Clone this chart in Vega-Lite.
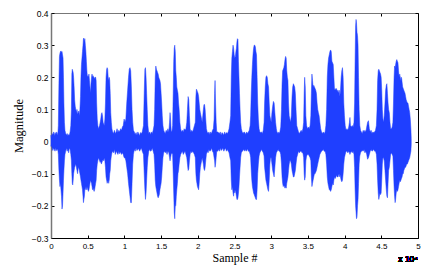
{
"$schema":"https://vega.github.io/schema/vega-lite/v6.json",
"width":367,"height":225,
"autosize":{"type":"none"},
"padding":{"left":51,"top":13,"right":18,"bottom":35},
"background":"white",
"config":{"view":{"stroke":null},"font":"Liberation Sans"},
"data":{"values":[
{"s":0,"hi":0.02,"lo":-0.015},{"s":50,"hi":0.01,"lo":-0.01},{"s":150,"hi":0.025,"lo":-0.02},{"s":250,"hi":0.02,"lo":-0.028},{"s":350,"hi":0.03,"lo":-0.02},{"s":450,"hi":0.018,"lo":-0.025},{"s":550,"hi":0.028,"lo":-0.03},{"s":650,"hi":0.022,"lo":-0.02},{"s":750,"hi":0.03,"lo":-0.028},{"s":850,"hi":0.02,"lo":-0.022},{"s":950,"hi":0.03,"lo":-0.03},
{"s":1000,"hi":0.05,"lo":-0.04},{"s":1080,"hi":0.18,"lo":-0.09},{"s":1150,"hi":0.265,"lo":-0.12},{"s":1220,"hi":0.275,"lo":-0.14},{"s":1290,"hi":0.28,"lo":-0.13},{"s":1360,"hi":0.282,"lo":-0.15},{"s":1430,"hi":0.278,"lo":-0.17},{"s":1500,"hi":0.28,"lo":-0.21},{"s":1570,"hi":0.27,"lo":-0.2},{"s":1640,"hi":0.26,"lo":-0.16},{"s":1700,"hi":0.2,"lo":-0.12},{"s":1760,"hi":0.12,"lo":-0.09},{"s":1830,"hi":0.06,"lo":-0.06},{"s":1900,"hi":0.035,"lo":-0.04},{"s":2000,"hi":0.025,"lo":-0.03},
{"s":2100,"hi":0.02,"lo":-0.02},{"s":2200,"hi":0.025,"lo":-0.03},{"s":2300,"hi":0.018,"lo":-0.022},{"s":2400,"hi":0.022,"lo":-0.035},{"s":2500,"hi":0.02,"lo":-0.02},{"s":2600,"hi":0.03,"lo":-0.025},{"s":2700,"hi":0.05,"lo":-0.04},
{"s":2780,"hi":0.1,"lo":-0.06},{"s":2840,"hi":0.21,"lo":-0.1},{"s":2900,"hi":0.225,"lo":-0.13},{"s":2960,"hi":0.22,"lo":-0.135},{"s":3020,"hi":0.215,"lo":-0.12},{"s":3080,"hi":0.2,"lo":-0.1},{"s":3150,"hi":0.17,"lo":-0.09},{"s":3220,"hi":0.13,"lo":-0.08},{"s":3300,"hi":0.11,"lo":-0.075},{"s":3380,"hi":0.1,"lo":-0.07},{"s":3460,"hi":0.09,"lo":-0.08},{"s":3540,"hi":0.1,"lo":-0.09},{"s":3620,"hi":0.085,"lo":-0.1},{"s":3700,"hi":0.09,"lo":-0.085},{"s":3780,"hi":0.095,"lo":-0.08},{"s":3860,"hi":0.08,"lo":-0.09},{"s":3940,"hi":0.1,"lo":-0.1},{"s":4020,"hi":0.14,"lo":-0.11},
{"s":4080,"hi":0.2,"lo":-0.12},{"s":4150,"hi":0.24,"lo":-0.13},{"s":4220,"hi":0.26,"lo":-0.14},{"s":4290,"hi":0.28,"lo":-0.15},{"s":4360,"hi":0.3,"lo":-0.17},{"s":4420,"hi":0.32,"lo":-0.19},{"s":4480,"hi":0.322,"lo":-0.18},{"s":4550,"hi":0.31,"lo":-0.17},{"s":4610,"hi":0.32,"lo":-0.15},{"s":4680,"hi":0.3,"lo":-0.14},{"s":4750,"hi":0.28,"lo":-0.15},{"s":4820,"hi":0.25,"lo":-0.14},{"s":4890,"hi":0.22,"lo":-0.15},{"s":4960,"hi":0.2,"lo":-0.14},{"s":5030,"hi":0.205,"lo":-0.15},{"s":5100,"hi":0.2,"lo":-0.155},{"s":5170,"hi":0.21,"lo":-0.15},{"s":5240,"hi":0.19,"lo":-0.14},{"s":5310,"hi":0.17,"lo":-0.13},{"s":5380,"hi":0.15,"lo":-0.12},{"s":5450,"hi":0.18,"lo":-0.125},{"s":5520,"hi":0.2,"lo":-0.13},{"s":5590,"hi":0.21,"lo":-0.14},{"s":5660,"hi":0.2,"lo":-0.15},{"s":5730,"hi":0.205,"lo":-0.145},{"s":5800,"hi":0.2,"lo":-0.15},{"s":5870,"hi":0.2,"lo":-0.155},{"s":5940,"hi":0.195,"lo":-0.15},{"s":6010,"hi":0.2,"lo":-0.14},{"s":6080,"hi":0.2,"lo":-0.13},{"s":6150,"hi":0.19,"lo":-0.12},{"s":6220,"hi":0.12,"lo":-0.09},{"s":6300,"hi":0.07,"lo":-0.07},{"s":6380,"hi":0.05,"lo":-0.06},
{"s":6460,"hi":0.04,"lo":-0.05},{"s":6540,"hi":0.045,"lo":-0.055},{"s":6620,"hi":0.05,"lo":-0.06},{"s":6700,"hi":0.06,"lo":-0.065},{"s":6780,"hi":0.07,"lo":-0.06},{"s":6860,"hi":0.085,"lo":-0.07},{"s":6940,"hi":0.09,"lo":-0.065},{"s":7020,"hi":0.08,"lo":-0.06},{"s":7100,"hi":0.06,"lo":-0.055},{"s":7180,"hi":0.055,"lo":-0.06},{"s":7260,"hi":0.05,"lo":-0.05},{"s":7340,"hi":0.07,"lo":-0.06},
{"s":7420,"hi":0.12,"lo":-0.08},{"s":7500,"hi":0.2,"lo":-0.11},{"s":7580,"hi":0.225,"lo":-0.12},{"s":7650,"hi":0.23,"lo":-0.13},{"s":7720,"hi":0.225,"lo":-0.125},{"s":7790,"hi":0.2,"lo":-0.12},{"s":7860,"hi":0.19,"lo":-0.13},{"s":7930,"hi":0.2,"lo":-0.12},{"s":8000,"hi":0.19,"lo":-0.1},{"s":8070,"hi":0.15,"lo":-0.09},{"s":8140,"hi":0.09,"lo":-0.06},{"s":8220,"hi":0.06,"lo":-0.045},{"s":8300,"hi":0.04,"lo":-0.035},
{"s":8400,"hi":0.03,"lo":-0.03},{"s":8520,"hi":0.025,"lo":-0.035},{"s":8640,"hi":0.035,"lo":-0.025},{"s":8760,"hi":0.025,"lo":-0.04},{"s":8880,"hi":0.03,"lo":-0.03},{"s":9000,"hi":0.04,"lo":-0.035},{"s":9120,"hi":0.028,"lo":-0.04},{"s":9240,"hi":0.035,"lo":-0.03},{"s":9360,"hi":0.03,"lo":-0.038},{"s":9480,"hi":0.04,"lo":-0.032},{"s":9600,"hi":0.035,"lo":-0.04},{"s":9720,"hi":0.045,"lo":-0.035},{"s":9840,"hi":0.05,"lo":-0.04},{"s":9960,"hi":0.07,"lo":-0.05},
{"s":10080,"hi":0.06,"lo":-0.05},{"s":10200,"hi":0.07,"lo":-0.06},{"s":10320,"hi":0.12,"lo":-0.08},{"s":10440,"hi":0.16,"lo":-0.1},{"s":10560,"hi":0.2,"lo":-0.13},{"s":10660,"hi":0.225,"lo":-0.15},{"s":10760,"hi":0.23,"lo":-0.17},{"s":10860,"hi":0.22,"lo":-0.19},{"s":10950,"hi":0.17,"lo":-0.19},{"s":11040,"hi":0.1,"lo":-0.13},{"s":11130,"hi":0.06,"lo":-0.07},{"s":11230,"hi":0.035,"lo":-0.04},
{"s":11350,"hi":0.03,"lo":-0.025},{"s":11470,"hi":0.022,"lo":-0.03},{"s":11590,"hi":0.028,"lo":-0.02},{"s":11710,"hi":0.02,"lo":-0.028},{"s":11830,"hi":0.03,"lo":-0.025},{"s":11950,"hi":0.025,"lo":-0.022},{"s":12070,"hi":0.018,"lo":-0.03},{"s":12190,"hi":0.028,"lo":-0.025},{"s":12310,"hi":0.025,"lo":-0.02},{"s":12430,"hi":0.03,"lo":-0.03},
{"s":12600,"hi":0.05,"lo":-0.04},{"s":12700,"hi":0.15,"lo":-0.1},{"s":12790,"hi":0.225,"lo":-0.15},{"s":12870,"hi":0.23,"lo":-0.18},{"s":12950,"hi":0.2,"lo":-0.16},{"s":13030,"hi":0.15,"lo":-0.12},{"s":13110,"hi":0.1,"lo":-0.08},{"s":13200,"hi":0.05,"lo":-0.05},
{"s":13320,"hi":0.025,"lo":-0.03},{"s":13440,"hi":0.03,"lo":-0.025},{"s":13560,"hi":0.022,"lo":-0.03},{"s":13680,"hi":0.03,"lo":-0.028},{"s":13800,"hi":0.025,"lo":-0.02},{"s":13920,"hi":0.035,"lo":-0.03},{"s":14040,"hi":0.05,"lo":-0.04},
{"s":14120,"hi":0.1,"lo":-0.07},{"s":14200,"hi":0.2,"lo":-0.12},{"s":14280,"hi":0.235,"lo":-0.14},{"s":14360,"hi":0.225,"lo":-0.15},{"s":14440,"hi":0.22,"lo":-0.16},{"s":14520,"hi":0.215,"lo":-0.17},{"s":14600,"hi":0.21,"lo":-0.175},{"s":14680,"hi":0.2,"lo":-0.17},{"s":14760,"hi":0.195,"lo":-0.165},{"s":14840,"hi":0.19,"lo":-0.15},{"s":14920,"hi":0.18,"lo":-0.14},{"s":15000,"hi":0.15,"lo":-0.13},{"s":15080,"hi":0.12,"lo":-0.11},{"s":15160,"hi":0.08,"lo":-0.08},{"s":15250,"hi":0.05,"lo":-0.05},{"s":15350,"hi":0.035,"lo":-0.035},
{"s":15450,"hi":0.03,"lo":-0.03},{"s":15570,"hi":0.025,"lo":-0.035},{"s":15690,"hi":0.035,"lo":-0.03},{"s":15810,"hi":0.03,"lo":-0.04},{"s":15930,"hi":0.04,"lo":-0.03},{"s":16050,"hi":0.03,"lo":-0.035},{"s":16150,"hi":0.06,"lo":-0.05},{"s":16220,"hi":0.09,"lo":-0.06},{"s":16290,"hi":0.07,"lo":-0.05},{"s":16370,"hi":0.035,"lo":-0.04},{"s":16470,"hi":0.03,"lo":-0.035},{"s":16570,"hi":0.05,"lo":-0.04},
{"s":16650,"hi":0.15,"lo":-0.1},{"s":16720,"hi":0.25,"lo":-0.16},{"s":16790,"hi":0.29,"lo":-0.22},{"s":16860,"hi":0.3,"lo":-0.24},{"s":16930,"hi":0.28,"lo":-0.2},{"s":17000,"hi":0.22,"lo":-0.2},{"s":17070,"hi":0.2,"lo":-0.17},{"s":17140,"hi":0.17,"lo":-0.15},{"s":17220,"hi":0.16,"lo":-0.13},{"s":17300,"hi":0.15,"lo":-0.1},{"s":17380,"hi":0.12,"lo":-0.09},{"s":17460,"hi":0.1,"lo":-0.07},{"s":17560,"hi":0.06,"lo":-0.05},{"s":17660,"hi":0.04,"lo":-0.04},
{"s":17780,"hi":0.03,"lo":-0.035},{"s":17900,"hi":0.035,"lo":-0.03},{"s":18020,"hi":0.03,"lo":-0.04},{"s":18140,"hi":0.04,"lo":-0.035},{"s":18260,"hi":0.035,"lo":-0.03},{"s":18380,"hi":0.04,"lo":-0.04},{"s":18500,"hi":0.06,"lo":-0.05},
{"s":18590,"hi":0.1,"lo":-0.07},{"s":18680,"hi":0.14,"lo":-0.09},{"s":18770,"hi":0.13,"lo":-0.085},{"s":18860,"hi":0.08,"lo":-0.06},{"s":18950,"hi":0.04,"lo":-0.04},
{"s":19060,"hi":0.03,"lo":-0.03},{"s":19180,"hi":0.035,"lo":-0.035},{"s":19300,"hi":0.03,"lo":-0.03},{"s":19420,"hi":0.04,"lo":-0.035},{"s":19540,"hi":0.05,"lo":-0.04},
{"s":19660,"hi":0.06,"lo":-0.05},{"s":19740,"hi":0.14,"lo":-0.1},{"s":19810,"hi":0.163,"lo":-0.12},{"s":19880,"hi":0.16,"lo":-0.13},{"s":19950,"hi":0.155,"lo":-0.14},{"s":20030,"hi":0.15,"lo":-0.145},{"s":20110,"hi":0.14,"lo":-0.15},{"s":20190,"hi":0.12,"lo":-0.13},{"s":20270,"hi":0.1,"lo":-0.1},{"s":20350,"hi":0.09,"lo":-0.08},{"s":20430,"hi":0.08,"lo":-0.07},{"s":20520,"hi":0.07,"lo":-0.06},{"s":20600,"hi":0.06,"lo":-0.05},{"s":20680,"hi":0.08,"lo":-0.06},{"s":20760,"hi":0.1,"lo":-0.07},{"s":20840,"hi":0.115,"lo":-0.085},{"s":20920,"hi":0.115,"lo":-0.09},{"s":21000,"hi":0.1,"lo":-0.08},{"s":21080,"hi":0.07,"lo":-0.06},{"s":21170,"hi":0.04,"lo":-0.04},
{"s":21280,"hi":0.03,"lo":-0.03},{"s":21400,"hi":0.025,"lo":-0.035},{"s":21520,"hi":0.03,"lo":-0.025},{"s":21640,"hi":0.022,"lo":-0.03},{"s":21760,"hi":0.03,"lo":-0.028},{"s":21880,"hi":0.025,"lo":-0.02},{"s":22000,"hi":0.035,"lo":-0.03},{"s":22120,"hi":0.04,"lo":-0.035},{"s":22220,"hi":0.07,"lo":-0.05},
{"s":22290,"hi":0.15,"lo":-0.06},{"s":22350,"hi":0.19,"lo":-0.08},{"s":22420,"hi":0.12,"lo":-0.07},{"s":22500,"hi":0.06,"lo":-0.05},{"s":22580,"hi":0.03,"lo":-0.03},
{"s":22700,"hi":0.03,"lo":-0.03},{"s":22820,"hi":0.028,"lo":-0.025},{"s":22940,"hi":0.025,"lo":-0.03},{"s":23060,"hi":0.03,"lo":-0.02},{"s":23180,"hi":0.02,"lo":-0.028},{"s":23300,"hi":0.028,"lo":-0.025},{"s":23420,"hi":0.025,"lo":-0.02},{"s":23540,"hi":0.02,"lo":-0.03},{"s":23660,"hi":0.03,"lo":-0.025},{"s":23780,"hi":0.022,"lo":-0.02},{"s":23900,"hi":0.028,"lo":-0.03},{"s":24020,"hi":0.025,"lo":-0.025},{"s":24140,"hi":0.03,"lo":-0.03},{"s":24260,"hi":0.04,"lo":-0.035},{"s":24380,"hi":0.06,"lo":-0.05},
{"s":24480,"hi":0.08,"lo":-0.06},{"s":24560,"hi":0.2,"lo":-0.12},{"s":24640,"hi":0.26,"lo":-0.15},{"s":24720,"hi":0.28,"lo":-0.14},{"s":24800,"hi":0.3,"lo":-0.16},{"s":24880,"hi":0.29,"lo":-0.17},{"s":24960,"hi":0.27,"lo":-0.15},{"s":25040,"hi":0.26,"lo":-0.16},{"s":25120,"hi":0.265,"lo":-0.15},{"s":25190,"hi":0.28,"lo":-0.16},{"s":25260,"hi":0.29,"lo":-0.17},{"s":25330,"hi":0.31,"lo":-0.18},{"s":25400,"hi":0.32,"lo":-0.18},{"s":25470,"hi":0.318,"lo":-0.175},{"s":25540,"hi":0.25,"lo":-0.16},{"s":25610,"hi":0.2,"lo":-0.14},{"s":25680,"hi":0.15,"lo":-0.11},{"s":25760,"hi":0.1,"lo":-0.08},{"s":25840,"hi":0.06,"lo":-0.05},{"s":25930,"hi":0.04,"lo":-0.035},
{"s":26050,"hi":0.03,"lo":-0.03},{"s":26170,"hi":0.025,"lo":-0.028},{"s":26290,"hi":0.03,"lo":-0.025},{"s":26410,"hi":0.028,"lo":-0.03},{"s":26530,"hi":0.022,"lo":-0.025},{"s":26650,"hi":0.03,"lo":-0.03},{"s":26770,"hi":0.025,"lo":-0.022},{"s":26890,"hi":0.03,"lo":-0.03},{"s":27010,"hi":0.035,"lo":-0.03},{"s":27130,"hi":0.05,"lo":-0.04},
{"s":27200,"hi":0.08,"lo":-0.05},{"s":27280,"hi":0.15,"lo":-0.09},{"s":27360,"hi":0.2,"lo":-0.12},{"s":27440,"hi":0.24,"lo":-0.14},{"s":27520,"hi":0.27,"lo":-0.15},{"s":27600,"hi":0.29,"lo":-0.16},{"s":27680,"hi":0.3,"lo":-0.165},{"s":27760,"hi":0.3,"lo":-0.17},{"s":27840,"hi":0.295,"lo":-0.175},{"s":27920,"hi":0.28,"lo":-0.18},{"s":28000,"hi":0.27,"lo":-0.18},{"s":28080,"hi":0.2,"lo":-0.15},{"s":28160,"hi":0.12,"lo":-0.1},{"s":28250,"hi":0.07,"lo":-0.07},{"s":28350,"hi":0.04,"lo":-0.045},{"s":28450,"hi":0.03,"lo":-0.035},
{"s":28560,"hi":0.028,"lo":-0.03},{"s":28680,"hi":0.03,"lo":-0.025},{"s":28800,"hi":0.025,"lo":-0.03},{"s":28920,"hi":0.035,"lo":-0.035},{"s":29030,"hi":0.06,"lo":-0.045},
{"s":29100,"hi":0.12,"lo":-0.08},{"s":29190,"hi":0.17,"lo":-0.1},{"s":29280,"hi":0.2,"lo":-0.12},{"s":29370,"hi":0.205,"lo":-0.13},{"s":29460,"hi":0.2,"lo":-0.14},{"s":29550,"hi":0.18,"lo":-0.15},{"s":29640,"hi":0.17,"lo":-0.155},{"s":29730,"hi":0.12,"lo":-0.12},{"s":29820,"hi":0.08,"lo":-0.07},{"s":29910,"hi":0.07,"lo":-0.05},
{"s":30000,"hi":0.06,"lo":-0.05},{"s":30100,"hi":0.09,"lo":-0.07},{"s":30200,"hi":0.11,"lo":-0.09},{"s":30300,"hi":0.125,"lo":-0.1},{"s":30400,"hi":0.12,"lo":-0.11},{"s":30500,"hi":0.09,"lo":-0.08},{"s":30600,"hi":0.06,"lo":-0.05},{"s":30700,"hi":0.04,"lo":-0.035},
{"s":30820,"hi":0.025,"lo":-0.03},{"s":30940,"hi":0.03,"lo":-0.025},{"s":31060,"hi":0.025,"lo":-0.03},{"s":31180,"hi":0.03,"lo":-0.03},{"s":31300,"hi":0.045,"lo":-0.04},
{"s":31400,"hi":0.1,"lo":-0.07},{"s":31480,"hi":0.18,"lo":-0.11},{"s":31560,"hi":0.22,"lo":-0.13},{"s":31640,"hi":0.225,"lo":-0.14},{"s":31720,"hi":0.23,"lo":-0.135},{"s":31800,"hi":0.24,"lo":-0.14},{"s":31880,"hi":0.255,"lo":-0.145},{"s":31960,"hi":0.265,"lo":-0.14},{"s":32040,"hi":0.26,"lo":-0.145},{"s":32120,"hi":0.22,"lo":-0.13},{"s":32200,"hi":0.2,"lo":-0.12},{"s":32280,"hi":0.19,"lo":-0.11},{"s":32360,"hi":0.12,"lo":-0.09},{"s":32450,"hi":0.08,"lo":-0.07},{"s":32540,"hi":0.07,"lo":-0.06},
{"s":32640,"hi":0.06,"lo":-0.06},{"s":32740,"hi":0.08,"lo":-0.07},{"s":32840,"hi":0.14,"lo":-0.09},{"s":32930,"hi":0.17,"lo":-0.1},{"s":33020,"hi":0.18,"lo":-0.11},{"s":33110,"hi":0.175,"lo":-0.11},{"s":33200,"hi":0.17,"lo":-0.1},{"s":33290,"hi":0.15,"lo":-0.09},{"s":33380,"hi":0.1,"lo":-0.07},{"s":33480,"hi":0.05,"lo":-0.05},
{"s":33600,"hi":0.04,"lo":-0.04},{"s":33720,"hi":0.03,"lo":-0.03},{"s":33840,"hi":0.025,"lo":-0.035},{"s":33960,"hi":0.03,"lo":-0.03},{"s":34080,"hi":0.035,"lo":-0.03},{"s":34200,"hi":0.03,"lo":-0.035},{"s":34320,"hi":0.04,"lo":-0.035},{"s":34420,"hi":0.06,"lo":-0.05},
{"s":34490,"hi":0.15,"lo":-0.1},{"s":34560,"hi":0.2,"lo":-0.12},{"s":34640,"hi":0.17,"lo":-0.11},{"s":34720,"hi":0.08,"lo":-0.06},{"s":34820,"hi":0.05,"lo":-0.045},{"s":34940,"hi":0.04,"lo":-0.04},{"s":35060,"hi":0.045,"lo":-0.04},{"s":35180,"hi":0.04,"lo":-0.045},{"s":35300,"hi":0.05,"lo":-0.05},{"s":35400,"hi":0.08,"lo":-0.06},
{"s":35470,"hi":0.15,"lo":-0.11},{"s":35550,"hi":0.21,"lo":-0.14},{"s":35630,"hi":0.19,"lo":-0.13},{"s":35710,"hi":0.17,"lo":-0.12},{"s":35800,"hi":0.175,"lo":-0.11},{"s":35890,"hi":0.17,"lo":-0.1},{"s":35980,"hi":0.165,"lo":-0.1},{"s":36070,"hi":0.16,"lo":-0.095},{"s":36160,"hi":0.15,"lo":-0.09},{"s":36250,"hi":0.12,"lo":-0.08},{"s":36340,"hi":0.1,"lo":-0.07},{"s":36430,"hi":0.09,"lo":-0.06},{"s":36530,"hi":0.08,"lo":-0.05},{"s":36630,"hi":0.06,"lo":-0.04},{"s":36740,"hi":0.04,"lo":-0.035},
{"s":36860,"hi":0.03,"lo":-0.03},{"s":36980,"hi":0.025,"lo":-0.028},{"s":37100,"hi":0.03,"lo":-0.025},{"s":37220,"hi":0.025,"lo":-0.03},{"s":37340,"hi":0.03,"lo":-0.03},{"s":37450,"hi":0.05,"lo":-0.04},
{"s":37550,"hi":0.1,"lo":-0.07},{"s":37640,"hi":0.2,"lo":-0.11},{"s":37730,"hi":0.24,"lo":-0.13},{"s":37820,"hi":0.26,"lo":-0.14},{"s":37910,"hi":0.27,"lo":-0.15},{"s":38000,"hi":0.28,"lo":-0.15},{"s":38090,"hi":0.285,"lo":-0.155},{"s":38180,"hi":0.28,"lo":-0.15},{"s":38270,"hi":0.25,"lo":-0.14},{"s":38360,"hi":0.245,"lo":-0.13},{"s":38450,"hi":0.24,"lo":-0.135},{"s":38540,"hi":0.2,"lo":-0.12},{"s":38630,"hi":0.16,"lo":-0.11},{"s":38720,"hi":0.165,"lo":-0.115},{"s":38810,"hi":0.16,"lo":-0.11},{"s":38900,"hi":0.165,"lo":-0.105},{"s":38990,"hi":0.155,"lo":-0.11},{"s":39080,"hi":0.16,"lo":-0.11},{"s":39170,"hi":0.15,"lo":-0.1},{"s":39260,"hi":0.16,"lo":-0.11},{"s":39350,"hi":0.14,"lo":-0.1},{"s":39440,"hi":0.16,"lo":-0.11},{"s":39530,"hi":0.2,"lo":-0.12},{"s":39620,"hi":0.22,"lo":-0.125},{"s":39710,"hi":0.23,"lo":-0.12},{"s":39800,"hi":0.2,"lo":-0.1},{"s":39890,"hi":0.12,"lo":-0.07},{"s":39980,"hi":0.08,"lo":-0.05},{"s":40080,"hi":0.05,"lo":-0.04},
{"s":40200,"hi":0.035,"lo":-0.03},{"s":40320,"hi":0.04,"lo":-0.03},{"s":40440,"hi":0.035,"lo":-0.035},{"s":40560,"hi":0.045,"lo":-0.03},{"s":40660,"hi":0.06,"lo":-0.035},{"s":40730,"hi":0.075,"lo":-0.04},{"s":40800,"hi":0.05,"lo":-0.035},{"s":40920,"hi":0.045,"lo":-0.03},{"s":41040,"hi":0.05,"lo":-0.035},{"s":41160,"hi":0.045,"lo":-0.03},{"s":41280,"hi":0.06,"lo":-0.04},
{"s":41360,"hi":0.12,"lo":-0.08},{"s":41430,"hi":0.25,"lo":-0.15},{"s":41500,"hi":0.36,"lo":-0.2},{"s":41560,"hi":0.38,"lo":-0.22},{"s":41620,"hi":0.37,"lo":-0.24},{"s":41690,"hi":0.34,"lo":-0.235},{"s":41760,"hi":0.33,"lo":-0.2},{"s":41830,"hi":0.3,"lo":-0.18},{"s":41900,"hi":0.2,"lo":-0.13},{"s":41980,"hi":0.1,"lo":-0.07},{"s":42070,"hi":0.05,"lo":-0.045},{"s":42170,"hi":0.035,"lo":-0.035},
{"s":42290,"hi":0.03,"lo":-0.03},{"s":42410,"hi":0.025,"lo":-0.028},{"s":42530,"hi":0.035,"lo":-0.03},{"s":42650,"hi":0.03,"lo":-0.025},{"s":42770,"hi":0.035,"lo":-0.035},{"s":42890,"hi":0.03,"lo":-0.03},{"s":43010,"hi":0.045,"lo":-0.04},{"s":43130,"hi":0.06,"lo":-0.055},{"s":43250,"hi":0.065,"lo":-0.05},{"s":43370,"hi":0.04,"lo":-0.04},{"s":43490,"hi":0.03,"lo":-0.03},{"s":43610,"hi":0.035,"lo":-0.025},{"s":43730,"hi":0.025,"lo":-0.03},{"s":43850,"hi":0.03,"lo":-0.028},{"s":43970,"hi":0.028,"lo":-0.025},{"s":44090,"hi":0.03,"lo":-0.03},{"s":44210,"hi":0.035,"lo":-0.03},{"s":44330,"hi":0.05,"lo":-0.04},
{"s":44420,"hi":0.1,"lo":-0.07},{"s":44500,"hi":0.19,"lo":-0.12},{"s":44580,"hi":0.22,"lo":-0.16},{"s":44660,"hi":0.225,"lo":-0.18},{"s":44740,"hi":0.22,"lo":-0.17},{"s":44820,"hi":0.215,"lo":-0.16},{"s":44900,"hi":0.21,"lo":-0.165},{"s":44980,"hi":0.2,"lo":-0.16},{"s":45060,"hi":0.16,"lo":-0.12},{"s":45140,"hi":0.1,"lo":-0.07},{"s":45220,"hi":0.07,"lo":-0.05},{"s":45300,"hi":0.06,"lo":-0.05},
{"s":45400,"hi":0.08,"lo":-0.06},{"s":45500,"hi":0.12,"lo":-0.09},{"s":45590,"hi":0.16,"lo":-0.12},{"s":45680,"hi":0.175,"lo":-0.15},{"s":45760,"hi":0.18,"lo":-0.17},{"s":45840,"hi":0.15,"lo":-0.175},{"s":45920,"hi":0.12,"lo":-0.13},{"s":46000,"hi":0.1,"lo":-0.09},{"s":46090,"hi":0.09,"lo":-0.08},{"s":46180,"hi":0.06,"lo":-0.06},{"s":46270,"hi":0.04,"lo":-0.04},
{"s":46370,"hi":0.04,"lo":-0.035},{"s":46480,"hi":0.045,"lo":-0.04},{"s":46580,"hi":0.06,"lo":-0.045},
{"s":46660,"hi":0.12,"lo":-0.09},{"s":46740,"hi":0.2,"lo":-0.14},{"s":46810,"hi":0.235,"lo":-0.17},{"s":46880,"hi":0.23,"lo":-0.19},{"s":46950,"hi":0.24,"lo":-0.18},{"s":47030,"hi":0.25,"lo":-0.16},{"s":47110,"hi":0.255,"lo":-0.15},{"s":47190,"hi":0.25,"lo":-0.155},{"s":47270,"hi":0.245,"lo":-0.15},{"s":47350,"hi":0.22,"lo":-0.14},{"s":47430,"hi":0.2,"lo":-0.13},{"s":47510,"hi":0.21,"lo":-0.12},{"s":47590,"hi":0.2,"lo":-0.125},{"s":47670,"hi":0.19,"lo":-0.12},{"s":47750,"hi":0.2,"lo":-0.115},{"s":47830,"hi":0.185,"lo":-0.11},{"s":47910,"hi":0.17,"lo":-0.1},{"s":47990,"hi":0.165,"lo":-0.1},{"s":48070,"hi":0.16,"lo":-0.09},{"s":48150,"hi":0.155,"lo":-0.085},{"s":48230,"hi":0.15,"lo":-0.08},{"s":48310,"hi":0.14,"lo":-0.08},{"s":48390,"hi":0.13,"lo":-0.075},{"s":48470,"hi":0.125,"lo":-0.07},{"s":48550,"hi":0.12,"lo":-0.07},{"s":48630,"hi":0.12,"lo":-0.065},{"s":48710,"hi":0.11,"lo":-0.06},{"s":48790,"hi":0.1,"lo":-0.055},{"s":48870,"hi":0.09,"lo":-0.05},{"s":48950,"hi":0.07,"lo":-0.04},{"s":49030,"hi":0.04,"lo":-0.03},{"s":49080,"hi":0.01,"lo":-0.01}
]},
"layer":[
{"mark":{"type":"area","color":"#1f3fff","opacity":1,"fillOpacity":1,"stroke":"#1f3fff","strokeWidth":0.5},
 "encoding":{
  "x":{"field":"s","type":"quantitative","scale":{"domain":[0,50000],"nice":false,"zero":false},
   "axis":{"orient":"bottom","values":[0,5000,10000,15000,20000,25000,30000,35000,40000,45000,50000],"labelExpr":"datum.value/10000","grid":false,"tickSize":-3,"tickColor":"#000","domainColor":"#000","labelColor":"#000","labelFont":"Liberation Sans","labelFontSize":8,"labelPadding":7,"labelFlush":false,"title":"Sample #","titleFont":"Liberation Serif","titleFontSize":12,"titleFontWeight":"normal","titleColor":"#000","titlePadding":2}},
  "y":{"field":"hi","type":"quantitative","scale":{"domain":[-0.3,0.4],"nice":false,"zero":false},
   "axis":{"orient":"left","values":[-0.3,-0.2,-0.1,0,0.1,0.2,0.3,0.4],"format":".1~f","grid":false,"tickSize":-3,"tickColor":"#000","domainColor":"#777","domainWidth":1.5,"labelColor":"#000","labelFont":"Liberation Sans","labelFontSize":8.5,"labelPadding":6,"labelFlush":false,"title":"Magnitude","titleFont":"Liberation Serif","titleFontSize":12.5,"titleFontWeight":"normal","titleColor":"#000","titlePadding":6}},
  "y2":{"field":"lo"}
 }},
{"mark":{"type":"point","opacity":0},
 "encoding":{
  "x":{"field":"s","type":"quantitative","axis":{"orient":"top","values":[0,5000,10000,15000,20000,25000,30000,35000,40000,45000,50000],"labels":false,"grid":false,"tickSize":-3,"tickColor":"#000","domainColor":"#777","title":null}},
  "y":{"field":"hi","type":"quantitative","axis":{"orient":"right","values":[-0.3,-0.2,-0.1,0,0.1,0.2,0.3,0.4],"labels":false,"grid":false,"tickSize":-3,"tickColor":"#000","domainColor":"#000","title":null}}
 }},
{"mark":{"type":"text","text":"x 10⁴","align":"right","baseline":"top","dy":17,"fontSize":8.5,"font":"Liberation Sans","color":"#000"},
 "encoding":{
  "x":{"datum":50000,"type":"quantitative","axis":null},
  "y":{"datum":-0.3,"type":"quantitative","axis":null}
 }}
],
"resolve":{"axis":{"x":"independent","y":"independent"}}
}
